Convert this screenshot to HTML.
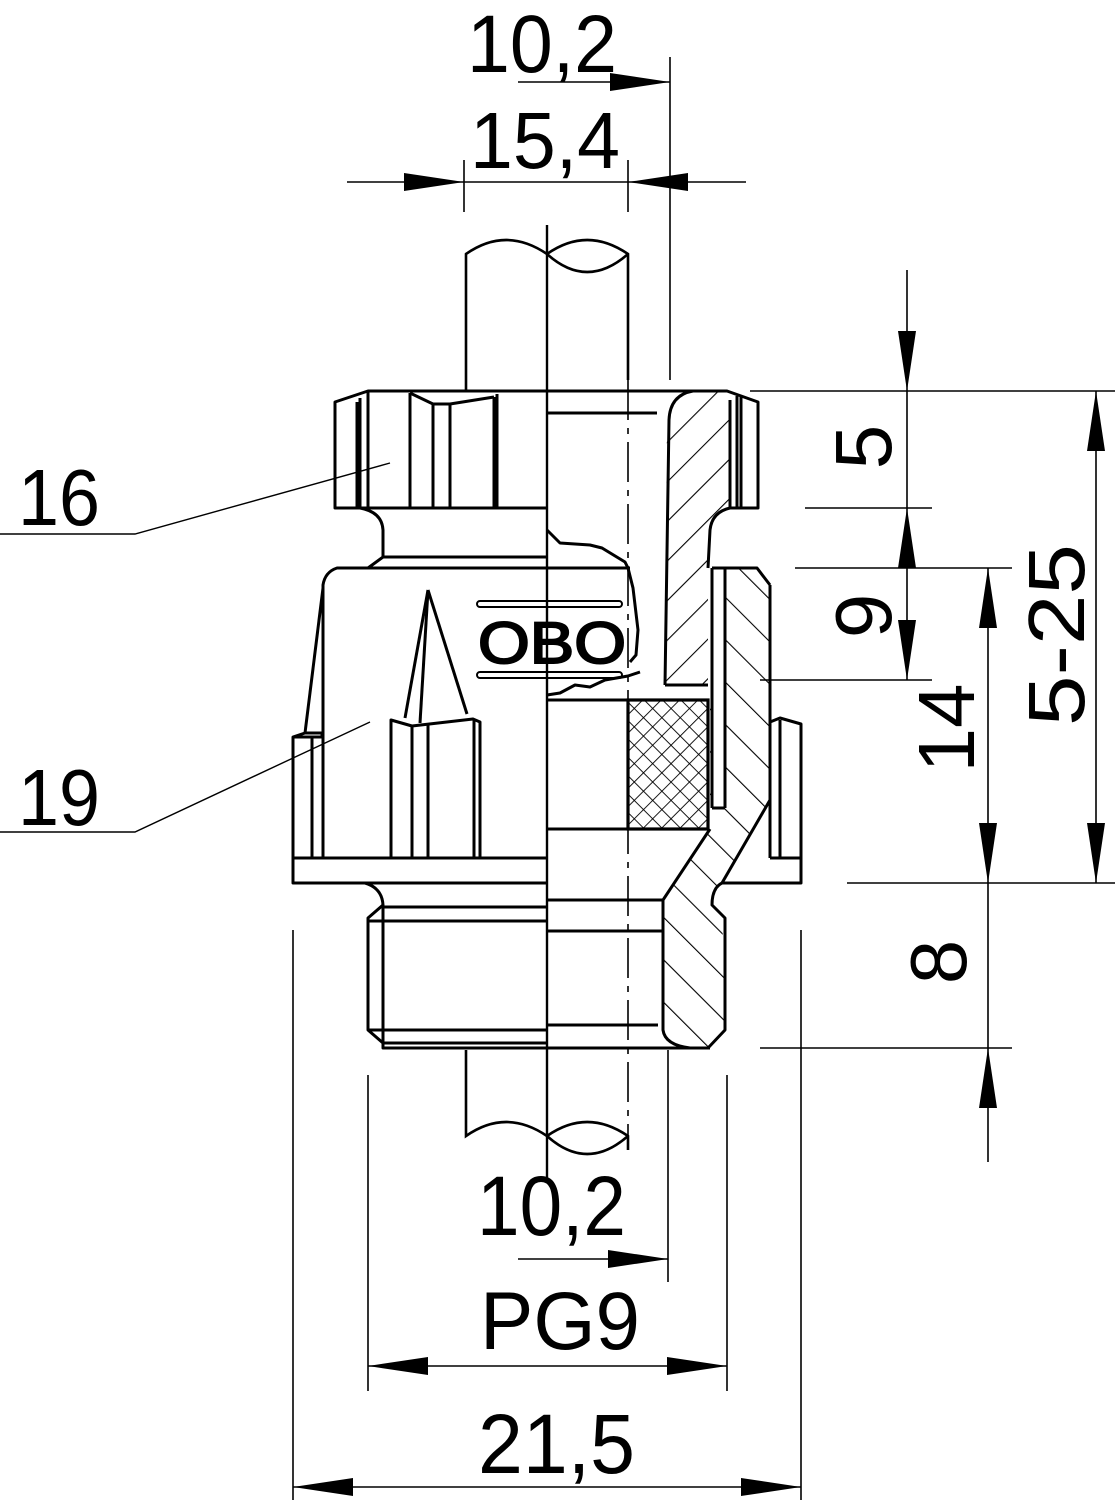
<!DOCTYPE html>
<html><head><meta charset="utf-8"><style>
html,body{margin:0;padding:0;background:#fff;}
svg{display:block;}
text{font-family:"Liberation Sans",Arial,sans-serif;fill:#000;}
</style></head><body>
<svg width="1119" height="1500" viewBox="0 0 1119 1500" xmlns="http://www.w3.org/2000/svg">
<defs>
<pattern id="h1" patternUnits="userSpaceOnUse" width="28" height="28" patternTransform="rotate(45)">
<line x1="0" y1="0" x2="0" y2="28" stroke="#000" stroke-width="2.2"/></pattern>
<pattern id="h2" patternUnits="userSpaceOnUse" width="30" height="30" patternTransform="rotate(-45)">
<line x1="0" y1="0" x2="0" y2="30" stroke="#000" stroke-width="2.2"/></pattern>
<pattern id="xh" patternUnits="userSpaceOnUse" width="13" height="13" patternTransform="rotate(45)">
<line x1="0" y1="0" x2="0" y2="13" stroke="#000" stroke-width="1.8"/>
<line x1="0" y1="0" x2="13" y2="0" stroke="#000" stroke-width="1.8"/></pattern>
</defs>

<!-- ===== dimensions ===== -->
<g stroke="#000" stroke-width="1.6" fill="none">
<line x1="518" y1="82" x2="670" y2="82"/>
<line x1="670" y1="57" x2="670" y2="380"/>
<line x1="347" y1="182" x2="746" y2="182"/>
<line x1="464" y1="160" x2="464" y2="212"/>
<line x1="628" y1="160" x2="628" y2="212"/>
<line x1="907" y1="270" x2="907" y2="680"/>
<line x1="988" y1="568" x2="988" y2="1162"/>
<line x1="1096" y1="391" x2="1096" y2="883"/>
<line x1="750" y1="391" x2="1115" y2="391"/>
<line x1="805" y1="508" x2="932" y2="508"/>
<line x1="795" y1="568" x2="1012" y2="568"/>
<line x1="760" y1="680" x2="932" y2="680"/>
<line x1="847" y1="883" x2="1115" y2="883"/>
<line x1="760" y1="1048" x2="1012" y2="1048"/>
<line x1="668" y1="1050" x2="668" y2="1282"/>
<line x1="518" y1="1259" x2="668" y2="1259"/>
<line x1="368" y1="1075" x2="368" y2="1391"/>
<line x1="727" y1="1075" x2="727" y2="1391"/>
<line x1="368" y1="1366" x2="727" y2="1366"/>
<line x1="293" y1="930" x2="293" y2="1500"/>
<line x1="801" y1="930" x2="801" y2="1500"/>
<line x1="293" y1="1487" x2="801" y2="1487"/>
<polyline points="0,534 135,534 390,463" stroke-width="1.4"/>
<polyline points="0,832 135,832 370,722" stroke-width="1.4"/>
</g>
<g fill="#000">
<polygon points="670,82 610,73 610,91"/>
<polygon points="464,182 404,173 404,191"/>
<polygon points="628,182 688,173 688,191"/>
<polygon points="907,391 898,331 916,331"/>
<polygon points="907,508 898,568 916,568"/>
<polygon points="907,680 898,620 916,620"/>
<polygon points="988,568 979,628 997,628"/>
<polygon points="988,883 979,823 997,823"/>
<polygon points="988,1048 979,1108 997,1108"/>
<polygon points="1096,391 1087,451 1105,451"/>
<polygon points="1096,883 1087,823 1105,823"/>
<polygon points="668,1259 608,1250 608,1268"/>
<polygon points="368,1366 428,1357 428,1375"/>
<polygon points="727,1366 667,1357 667,1375"/>
<polygon points="293,1487 353,1478 353,1496"/>
<polygon points="801,1487 741,1478 741,1496"/>
</g>

<!-- ===== text ===== -->
<text x="467" y="72" font-size="82" textLength="150" lengthAdjust="spacingAndGlyphs">10,2</text>
<text x="470" y="168" font-size="80" textLength="150" lengthAdjust="spacingAndGlyphs">15,4</text>
<text x="477" y="1235" font-size="84" textLength="149" lengthAdjust="spacingAndGlyphs">10,2</text>
<text x="480" y="1349" font-size="82" textLength="160" lengthAdjust="spacingAndGlyphs">PG9</text>
<text x="478" y="1473" font-size="84" textLength="157" lengthAdjust="spacingAndGlyphs">21,5</text>
<text x="18" y="525" font-size="80" textLength="82" lengthAdjust="spacingAndGlyphs">16</text>
<text x="18" y="825" font-size="80" textLength="82" lengthAdjust="spacingAndGlyphs">19</text>
<text transform="translate(891,447) rotate(-90)" font-size="80" text-anchor="middle">5</text>
<text transform="translate(891,616) rotate(-90)" font-size="80" text-anchor="middle">9</text>
<text transform="translate(974,728) rotate(-90)" font-size="80" text-anchor="middle">14</text>
<text transform="translate(966,962) rotate(-90)" font-size="80" text-anchor="middle">8</text>
<text transform="translate(1084,635) rotate(-90)" font-size="80" text-anchor="middle" textLength="182" lengthAdjust="spacingAndGlyphs">5-25</text>

<!-- ===== cable ===== -->
<g stroke="#000" stroke-width="2.6" fill="none">
<path d="M466,391 V254 Q506,226 547,254 Q587,226 628,254 V380"/>
<path d="M547,254 Q587,290 628,254"/>
<path d="M466,1050 V1136 Q506,1108 547,1136 Q587,1108 628,1136 V1150"/>
<path d="M547,1136 Q587,1172 628,1136"/>
</g>
<line x1="547" y1="225" x2="547" y2="1182" stroke="#000" stroke-width="2.4"/>
<line x1="628" y1="380" x2="628" y2="1150" stroke="#000" stroke-width="1.6" stroke-dasharray="40,8,6,8"/>

<!-- ===== hatched sections ===== -->
<path d="M693,391 L727,391 L730,400 L730,508 Q712,512 710,530 L708,568 L708,685 L665,685 L667,420 Q670,395 693,391 Z" fill="url(#h1)" stroke="none"/>
<path d="M712,568 L757,568 L770,585 L770,800 L722,883 L710,893 L722,905 L725,1030 L708,1048 L690,1048 Q663,1040 663,1030 L663,900 L710,829 L710,700 L712,700 Z" fill="url(#h2)" stroke="none"/>
<rect x="712" y="568" width="13" height="240" fill="#fff" stroke="none"/>
<rect x="628" y="700" width="80" height="129" fill="url(#xh)" stroke="#000" stroke-width="3.2"/>

<!-- ===== outline ===== -->
<g stroke="#000" stroke-width="3" fill="none" stroke-linejoin="round">
<path d="M547,391 H368 L335,402 V508 H547"/>
<line x1="357" y1="402" x2="357" y2="508"/>
<line x1="360" y1="398" x2="360" y2="508"/>
<line x1="368" y1="391" x2="368" y2="508"/>
<path d="M410,393 L433,404 L450,404 L494,397"/>
<line x1="410" y1="393" x2="410" y2="508"/>
<line x1="433" y1="404" x2="433" y2="508"/>
<line x1="450" y1="404" x2="450" y2="508"/>
<line x1="494" y1="397" x2="494" y2="508"/>
<line x1="497" y1="394" x2="497" y2="508"/>
<path d="M547,391 H727 L758,402 V508 H730"/>
<line x1="730" y1="400" x2="730" y2="508"/>
<line x1="737" y1="396" x2="737" y2="508"/>
<line x1="741" y1="396" x2="741" y2="508"/>
<path d="M693,391 Q670,395 669,420 L665,685"/>
<path d="M730,508 Q712,512 710,530 L708,568"/>
<line x1="547" y1="413" x2="657" y2="413"/>
<path d="M360,508 Q382,512 383,530 V557 L368,568"/>
<line x1="383" y1="557" x2="547" y2="557"/>
<path d="M547,530 L560,543 L590,545 L602,548 L625,562 L628,568 L633,588 L638,630 L636,655 L630,662"/>
<path d="M547,695 L560,693 L575,685 L590,687 L605,680 L628,676 L640,672"/>
<path d="M630,568 H337 Q325,572 323,585 V858"/>
<line x1="323" y1="588" x2="305" y2="733"/>
<path d="M293,858 V737 L305,733 L322,733 L322,737"/>
<line x1="293" y1="737" x2="322" y2="737"/>
<line x1="312" y1="737" x2="312" y2="858"/>
<line x1="428" y1="590" x2="405" y2="718"/>
<line x1="428" y1="590" x2="420" y2="723"/>
<line x1="428" y1="590" x2="467" y2="714"/>
<path d="M391,858 V720 L412,726 L473,719 L480,722 V858"/>
<line x1="412" y1="726" x2="412" y2="858"/>
<line x1="428" y1="725" x2="428" y2="858"/>
<line x1="474" y1="720" x2="474" y2="858"/>
<path d="M293,858 H547 M293,858 V883 H547"/>
<path d="M770,858 H801 V883 H722"/>
<path d="M770,585 V858"/>
<path d="M770,722 L780,718 L801,724 V858"/>
<line x1="780" y1="720" x2="780" y2="858"/>
<path d="M712,568 H757 L770,585"/>
<line x1="712" y1="568" x2="712" y2="808"/>
<line x1="712" y1="808" x2="725" y2="808"/>
<line x1="725" y1="568" x2="725" y2="808"/>
<path d="M710,829 L663,900 V1030 Q665,1045 690,1048 H708 L725,1030 V918 L712,905 Q712,888 722,883"/>
<path d="M770,800 L722,883"/>
<line x1="665" y1="685" x2="708" y2="685"/>
<line x1="547" y1="700" x2="628" y2="700"/>
<line x1="547" y1="829" x2="628" y2="829"/>
<line x1="547" y1="900" x2="663" y2="900"/>
<line x1="547" y1="931" x2="663" y2="931"/>
<line x1="547" y1="1025" x2="658" y2="1025"/>
<path d="M365,883 Q382,888 383,905 L368,918 V1030 L383,1043 V1048 H710"/>
<line x1="383" y1="907" x2="547" y2="907"/>
<line x1="368" y1="921" x2="547" y2="921"/>
<line x1="368" y1="1030" x2="547" y2="1030"/>
<line x1="383" y1="1043" x2="547" y2="1043"/>
<line x1="383" y1="905" x2="383" y2="1048"/>
</g>

<!-- OBO logo -->
<g stroke="#000" stroke-width="2" fill="none">
<rect x="477" y="601" width="145" height="6" rx="3"/>
<rect x="477" y="672" width="145" height="6" rx="3"/>
</g>
<text x="478" y="663" font-size="58" fill="none" stroke="#000" stroke-width="2" textLength="148" lengthAdjust="spacingAndGlyphs">OBO</text>
</svg>
</body></html>
